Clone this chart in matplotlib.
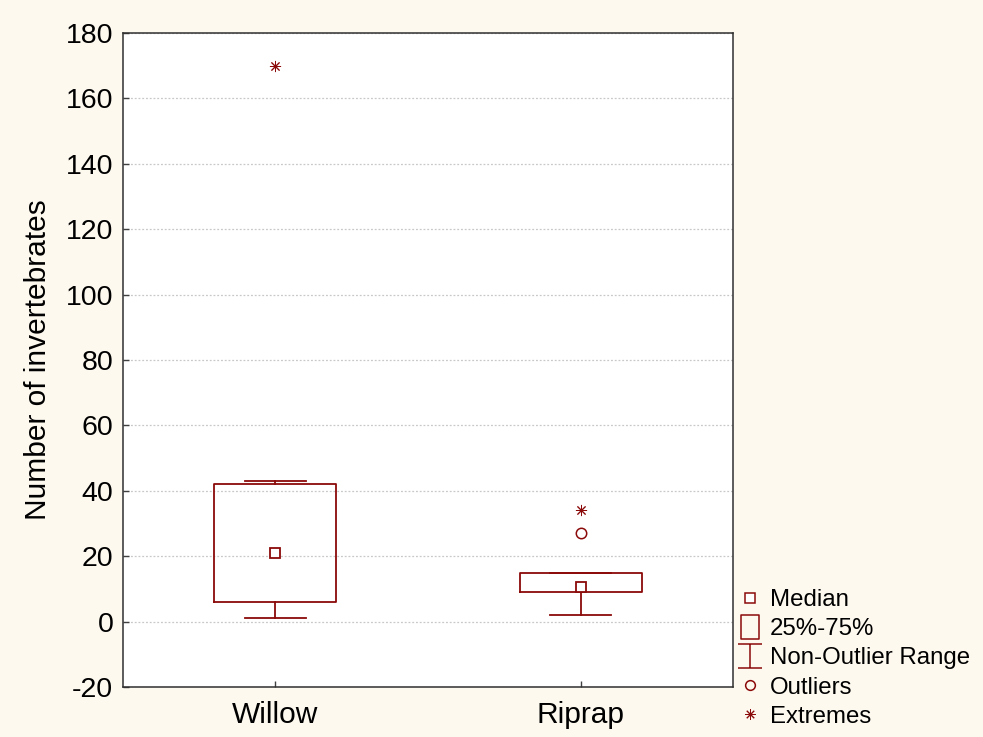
import matplotlib
matplotlib.use("Agg")
import matplotlib.pyplot as plt
from matplotlib.path import Path
from matplotlib.lines import Line2D

plt.rcParams['font.family'] = ['Liberation Sans', 'DejaVu Sans']
plt.rcParams['axes.unicode_minus'] = False

# Summary statistics per habitat
categories = ["Willow", "Riprap"]
medians = [21, 10.5]
q1 = [6, 9]
q3 = [42, 15]
whisker_low = [1, 2]
whisker_high = [43, 15]
outliers = [[], [27]]
extremes = [[170], [34]]

y_ticks = list(range(-20, 181, 20))

RED = "#8b0a0a"
BG = "#fdf9ef"

fig = plt.figure(figsize=(9.83, 7.37), dpi=100, facecolor=BG)
ax = fig.add_axes([0.1251, 0.0678, 0.6206, 0.8874])
ax.set_facecolor("white")

positions = list(range(len(categories)))
stats = []
for i, name in enumerate(categories):
    stats.append(dict(label=name, med=medians[i], q1=q1[i], q3=q3[i],
                      whislo=whisker_low[i], whishi=whisker_high[i], fliers=[]))

ax.bxp(stats, positions=positions, widths=0.4, showfliers=False,
       boxprops=dict(color=RED, linewidth=1.3),
       whiskerprops=dict(color=RED, linewidth=1.3),
       capprops=dict(color=RED, linewidth=1.3),
       medianprops=dict(linewidth=0),
       capwidths=0.2, zorder=3)

ax.plot(positions, medians, ls="none", marker="s", ms=7, mfc="white",
        mec=RED, mew=1.3, zorder=4)
for i in positions:
    if outliers[i]:
        ax.plot([i] * len(outliers[i]), outliers[i], ls="none", marker="o",
                ms=7.5, mfc="none", mec=RED, mew=1.1, zorder=4)
    if extremes[i]:
        ax.plot([i] * len(extremes[i]), extremes[i], ls="none", marker=(8, 2, 0),
                ms=8, mec=RED, mew=0.7, zorder=4)

ax.set_xlim(-0.5, 1.5)
ax.set_ylim(-20, 180)
ax.set_yticks(y_ticks)
ax.set_xticks(positions)
ax.set_xticklabels(categories)
ax.tick_params(axis="both", direction="in", length=4, width=1, colors="#404040",
               labelcolor="black", pad=7)
ax.tick_params(axis="y", labelsize=20.5)
ax.tick_params(axis="x", labelsize=21.5, pad=10)
ax.yaxis.grid(True, linestyle=(0, (1.5, 1.5)), color="#c8c8c8", linewidth=0.9)
ax.set_axisbelow(True)
for side, sp in ax.spines.items():
    sp.set_color("#303030")
    sp.set_linewidth(1.1)
ax.set_ylabel("Number of invertebrates", fontsize=21.5, labelpad=10)

# Legend glyphs
box_path = Path([(-0.4, -0.5), (0.4, -0.5), (0.4, 0.5), (-0.4, 0.5), (-0.4, -0.5)],
                [Path.MOVETO, Path.LINETO, Path.LINETO, Path.LINETO, Path.CLOSEPOLY])
range_path = Path([(-0.5, 0.5), (0.5, 0.5), (0, 0.5), (0, -0.5), (-0.5, -0.5), (0.5, -0.5)],
                  [Path.MOVETO, Path.LINETO, Path.MOVETO, Path.LINETO, Path.MOVETO, Path.LINETO])
handles = [
    Line2D([], [], ls="none", marker="s", ms=6.5, mfc="white", mec=RED, mew=1.1),
    Line2D([], [], ls="none", marker=box_path, ms=17, mfc="none", mec=RED, mew=1.1),
    Line2D([], [], ls="none", marker=range_path, ms=17, mfc="none", mec=RED, mew=1.1),
    Line2D([], [], ls="none", marker="o", ms=7, mfc="none", mec=RED, mew=1.1),
    Line2D([], [], ls="none", marker=(8, 2, 0), ms=7.5, mec=RED, mew=0.7),
]
labels = ["Median", "25%-75%", "Non-Outlier Range", "Outliers", "Extremes"]
fig.legend(handles, labels, loc="lower left", bbox_to_anchor=(0.748, 0.006),
           frameon=False, fontsize=17.3, handlelength=0.83, handletextpad=0.42,
           labelspacing=0.3, borderpad=0.2, borderaxespad=0)

fig.savefig("out.png", dpi=100, facecolor=BG)
